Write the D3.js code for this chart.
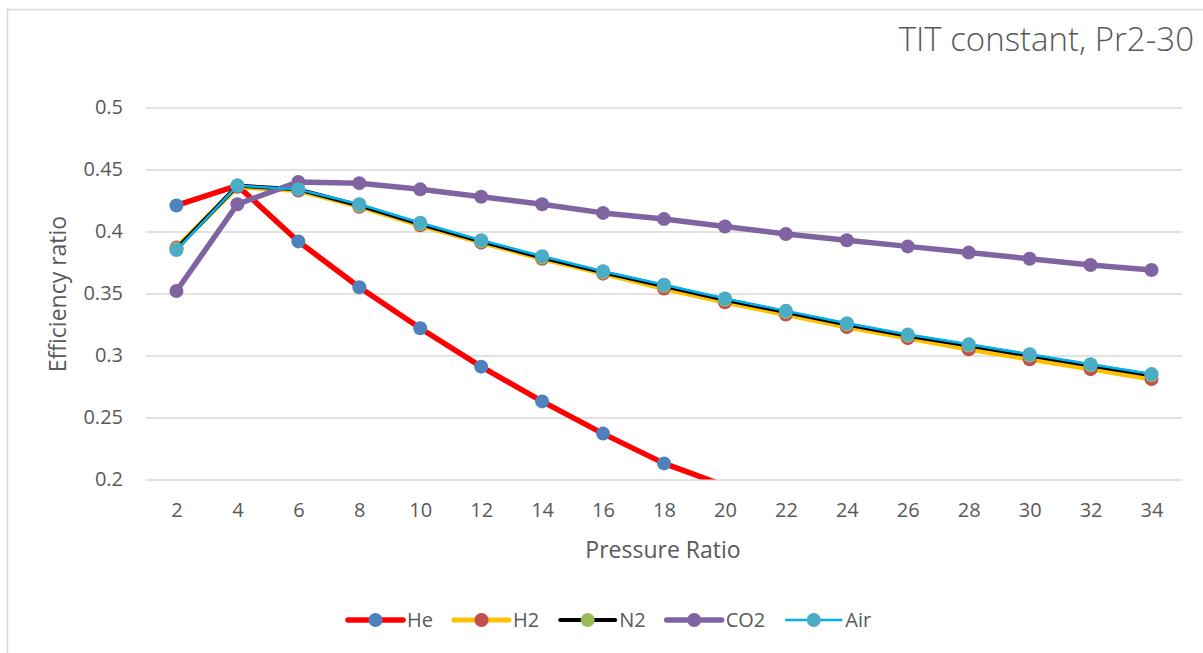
<!DOCTYPE html>
<html>
<head>
<meta charset="utf-8">
<script src="https://cdnjs.cloudflare.com/ajax/libs/d3/7.8.5/d3.min.js"></script>
<style>
  body { margin: 0; background: #fff; }
  text { font-family: "Open Sans", sans-serif; fill: #595959; }
</style>
</head>
<body>
<div id="chart"></div>
<script>
// data
var pressureRatios = [2, 4, 6, 8, 10, 12, 14, 16, 18, 20, 22, 24, 26, 28, 30, 32, 34];
var yTicks = [0.2, 0.25, 0.3, 0.35, 0.4, 0.45, 0.5];

var heValues  = [0.421, 0.437, 0.392, 0.355, 0.322, 0.291, 0.263, 0.237, 0.213, 0.195];
var h2Values  = [0.387, 0.436, 0.433, 0.420, 0.405, 0.391, 0.378, 0.366, 0.354, 0.343, 0.333, 0.323, 0.314, 0.305, 0.297, 0.289, 0.281];
var n2Values  = [0.386, 0.437, 0.434, 0.421, 0.406, 0.392, 0.379, 0.367, 0.356, 0.345, 0.335, 0.325, 0.316, 0.308, 0.300, 0.292, 0.284];
var co2Values = [0.352, 0.422, 0.440, 0.439, 0.434, 0.428, 0.422, 0.415, 0.410, 0.404, 0.398, 0.393, 0.388, 0.383, 0.378, 0.373, 0.369];
var airValues = [0.385, 0.437, 0.434, 0.422, 0.407, 0.393, 0.380, 0.368, 0.357, 0.346, 0.336, 0.326, 0.317, 0.309, 0.301, 0.293, 0.285];

var seriesNames = ["He", "H2", "N2", "CO2", "Air"];
var seriesValues = [heValues, h2Values, n2Values, co2Values, airValues];

// looks
var lineColors   = {"He": "#ff0000", "H2": "#ffc000", "N2": "#000000", "CO2": "#8064a2", "Air": "#00b0f0"};
var markerColors = {"He": "#4f81bd", "H2": "#c0504d", "N2": "#9bbb59", "CO2": "#8064a2", "Air": "#4bacc6"};
var lineWidths   = {"He": 5.5, "H2": 5, "N2": 4, "CO2": 5.5, "Air": 2.5};

var W = 1203, H = 653;
var plot = {left: 146, right: 1182, top: 107.5, bottom: 479.5};

var svg = d3.select("#chart").append("svg")
    .attr("width", W)
    .attr("height", H);

// chart frame (right/bottom edges fall outside the picture)
svg.append("rect")
    .attr("x", 7.5).attr("y", 9.5)
    .attr("width", W + 20).attr("height", H + 20)
    .attr("fill", "#fff")
    .attr("stroke", "#d9d9d9")
    .attr("stroke-width", 1.5);

var x = d3.scalePoint()
    .domain(pressureRatios)
    .range([plot.left, plot.right])
    .padding(0.5);

var y = d3.scaleLinear()
    .domain([0.2, 0.5])
    .range([plot.bottom, plot.top]);

// gridlines + y labels
var yAxis = d3.axisLeft(y)
    .tickValues(yTicks)
    .tickSize(-(plot.right - plot.left))
    .tickPadding(23)
    .tickFormat(function(d) { return String(+d.toFixed(2)); });

var gy = svg.append("g")
    .attr("transform", "translate(" + plot.left + ",0)")
    .call(yAxis);
gy.select(".domain").remove();
gy.selectAll(".tick line").attr("stroke", "#d9d9d9").attr("stroke-width", 1.5);
gy.selectAll(".tick text")
    .style("font-size", "20px")
    .attr("fill", "#595959");

// x labels
var xAxis = d3.axisBottom(x).tickSize(0).tickPadding(23);
var gx = svg.append("g")
    .attr("transform", "translate(0," + plot.bottom + ")")
    .call(xAxis);
gx.select(".domain").remove();
gx.selectAll(".tick text")
    .style("font-size", "20px")
    .attr("fill", "#595959");

// axis titles
svg.append("text")
    .attr("x", 663)
    .attr("y", 558)
    .attr("text-anchor", "middle")
    .style("font-size", "23px")
    .text("Pressure Ratio");

svg.append("text")
    .attr("transform", "translate(66," + 294 + ") rotate(-90)")
    .attr("text-anchor", "middle")
    .style("font-size", "23px")
    .text("Efficiency ratio");

// chart title
svg.append("text")
    .attr("x", 1194)
    .attr("y", 51)
    .attr("text-anchor", "end")
    .style("font-size", "33px")
    .style("font-weight", 300)
    .text("TIT constant, Pr2-30");

// plot area clip
svg.append("clipPath").attr("id", "plotClip")
    .append("rect")
    .attr("x", plot.left - 20).attr("y", plot.top - 40)
    .attr("width", plot.right - plot.left + 40)
    .attr("height", plot.bottom - plot.top + 40);

var line = d3.line()
    .x(function(d) { return x(d.x); })
    .y(function(d) { return y(d.v); });

var series = seriesNames.map(function(name, i) {
    return {
        name: name,
        points: seriesValues[i].map(function(v, j) { return {x: pressureRatios[j], v: v}; })
    };
});

var gPlot = svg.append("g").attr("clip-path", "url(#plotClip)");

series.forEach(function(s) {
    var g = gPlot.append("g").attr("class", "series");
    g.append("path")
        .datum(s.points)
        .attr("d", line)
        .attr("fill", "none")
        .attr("stroke", lineColors[s.name])
        .attr("stroke-width", lineWidths[s.name])
        .attr("stroke-linejoin", "round")
        .attr("stroke-linecap", "round");
    g.selectAll("circle")
        .data(s.points.filter(function(d) { return d.v >= 0.2; }))
        .enter().append("circle")
        .attr("cx", function(d) { return x(d.x); })
        .attr("cy", function(d) { return y(d.v); })
        .attr("r", 7)
        .attr("fill", markerColors[s.name]);
});

// legend
var legend = svg.append("g").attr("transform", "translate(0,620)");
var lx = 348;
seriesNames.forEach(function(name) {
    var item = legend.append("g").attr("transform", "translate(" + lx + ",0)");
    item.append("line")
        .attr("x1", 0).attr("x2", 55)
        .attr("stroke", lineColors[name])
        .attr("stroke-width", lineWidths[name])
        .attr("stroke-linecap", "round");
    item.append("circle")
        .attr("cx", 27.5).attr("r", 7)
        .attr("fill", markerColors[name]);
    var t = item.append("text")
        .attr("x", 59)
        .attr("dy", "0.35em")
        .style("font-size", "20px")
        .text(name);
    lx += 59 + t.node().getComputedTextLength() + 21;
});
</script>
</body>
</html>
